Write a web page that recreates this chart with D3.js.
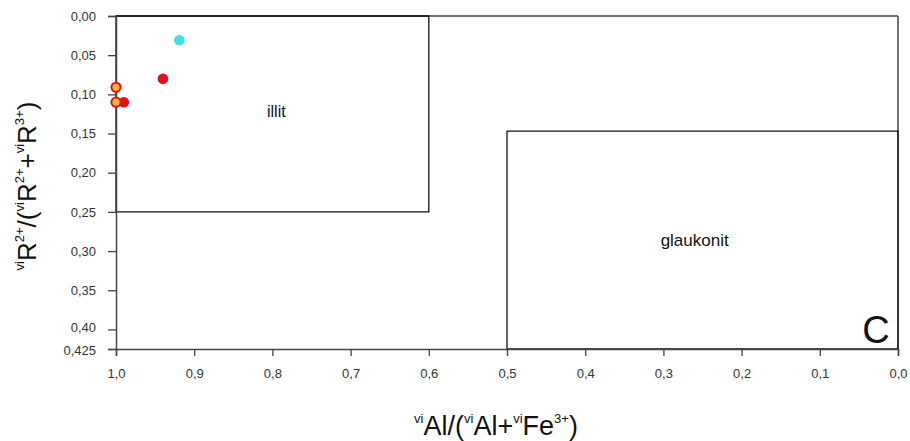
<!DOCTYPE html>
<html><head><meta charset="utf-8">
<script src="https://cdn.jsdelivr.net/npm/d3@7"></script>
<style>body{margin:0;background:#fff}svg{display:block}</style>
</head><body>
<svg id="c" width="910" height="441"></svg>
<script>
const xTicks = [1.0,0.9,0.8,0.7,0.6,0.5,0.4,0.3,0.2,0.1,0.0];
const yTicks = [0.00,0.05,0.10,0.15,0.20,0.25,0.30,0.35,0.40,0.425];
const yTickLabels = ["0,00","0,05","0,10","0,15","0,20","0,25","0,30","0,35","0,40","0,425"];
const xTickLabels = ["1,0","0,9","0,8","0,7","0,6","0,5","0,4","0,3","0,2","0,1","0,0"];
// fields: [x0, x1, y0, y1]
const illitBox = [1.0, 0.6, 0.0, 0.25];
const glaukonitBox = [0.5, 0.0, 0.147, 0.425];
const fieldLabels = [{t:"illit", x:0.795, y:0.129, s:16},{t:"glaukonit", x:0.26, y:0.294, s:17}];
const redX = [0.940, 0.990];
const redY = [0.080, 0.110];
const orangeX = [1.000, 1.000];
const orangeY = [0.091, 0.110];
const cyanX = [0.919];
const cyanY = [0.031];

const svg = d3.select("#c");
const x = d3.scaleLinear().domain([1.0,0.0]).range([116,898]);
const y = d3.scaleLinear().domain([0,0.425]).range([16,349]);
const axisColor = "#444";
const FF = "Liberation Sans, Arial, sans-serif";

// frame top and right
svg.append("line").attr("x1",x(1)).attr("x2",x(0)).attr("y1",y(0)).attr("y2",y(0)).attr("stroke",axisColor).attr("stroke-width",1.5);
svg.append("line").attr("x1",x(0)).attr("x2",x(0)).attr("y1",y(0)).attr("y2",y(0.425)).attr("stroke",axisColor).attr("stroke-width",1.5);

// boxes
[illitBox, glaukonitBox].forEach(b=>{
  svg.append("path").attr("fill","none").attr("stroke","#111").attr("stroke-width",1.3)
    .attr("d", `M${x(b[0])},${y(b[2])}H${x(b[1])}V${y(b[3])}H${x(b[0])}Z`);
});

// axes
const yAxis = d3.axisLeft(y).tickValues(yTicks).tickSize(8).tickPadding(12)
  .tickFormat((d,i)=>yTickLabels[i]);
const gy = svg.append("g").attr("transform",`translate(${x(1)},0)`).call(yAxis);
const xAxis = d3.axisBottom(x).tickValues(xTicks).tickSize(7).tickPadding(13)
  .tickFormat((d,i)=>xTickLabels[i]);
const gx = svg.append("g").attr("transform",`translate(0,${y(0.425)})`).call(xAxis);
[gx,gy].forEach(g=>{
  g.select(".domain").attr("stroke",axisColor).attr("stroke-width",1.5);
  g.selectAll(".tick line").attr("stroke",axisColor).attr("stroke-width",1.3);
  g.selectAll("text").attr("font-family",FF).attr("font-size",13).attr("fill","#333");
});
gy.selectAll(".tick").filter(d=>d===0.425).select("text").attr("dy","0.45em");
gy.selectAll(".tick").filter(d=>d===0.40).select("text").attr("dy","0.15em");

// field labels
fieldLabels.forEach(f=>{
  svg.append("text").attr("x",x(f.x)).attr("y",y(f.y)).attr("text-anchor","middle")
    .attr("font-family",FF).attr("font-size",f.s).attr("fill","#111").text(f.t);
});
svg.append("text").attr("x",876).attr("y",343).attr("text-anchor","middle")
  .attr("font-family",FF).attr("font-size",38).attr("fill","#111").text("C");

// points
const pts = [];
redX.forEach((v,i)=>pts.push({x:v,y:redY[i],f:"#e3101a",s:"#e3101a"}));
cyanX.forEach((v,i)=>pts.push({x:v,y:cyanY[i],f:"#3fe0e8",s:"#3fe0e8"}));
orangeX.forEach((v,i)=>pts.push({x:v,y:orangeY[i],f:"#f7b733",s:"#e3101a"}));
svg.append("g").selectAll("circle").data(pts).join("circle")
  .attr("cx",d=>x(d.x)).attr("cy",d=>y(d.y)).attr("r",d=>d.s!==d.f?4.6:5.3)
  .attr("fill",d=>d.f).attr("stroke",d=>d.s).attr("stroke-width",d=>d.s!==d.f?2:0);

// axis titles
function build(t, segs){
  let raised=false;
  segs.forEach(s=>{
    const ts=t.append("tspan").text(s.t);
    if(s.sup){ ts.attr("font-size",13); if(!raised){ts.attr("dy",-12); raised=true;} }
    else { if(raised){ts.attr("dy",12); raised=false;} }
  });
}
const xt = svg.append("text").attr("x",496).attr("y",435).attr("text-anchor","middle")
  .attr("font-family",FF).attr("font-size",27).attr("fill","#111");
build(xt,[{t:"vi",sup:1},{t:"Al/("},{t:"vi",sup:1},{t:"Al+"},{t:"vi",sup:1},{t:"Fe"},{t:"3+",sup:1},{t:")"}]);
const yt = svg.append("text").attr("transform","translate(36,186) rotate(-90)").attr("text-anchor","middle")
  .attr("font-family",FF).attr("font-size",26).attr("fill","#111");
build(yt,[{t:"vi",sup:1},{t:"R"},{t:"2+",sup:1},{t:"/("},{t:"vi",sup:1},{t:"R"},{t:"2+",sup:1},{t:"+"},{t:"vi",sup:1},{t:"R"},{t:"3+",sup:1},{t:")"}]);
</script>
</body></html>
